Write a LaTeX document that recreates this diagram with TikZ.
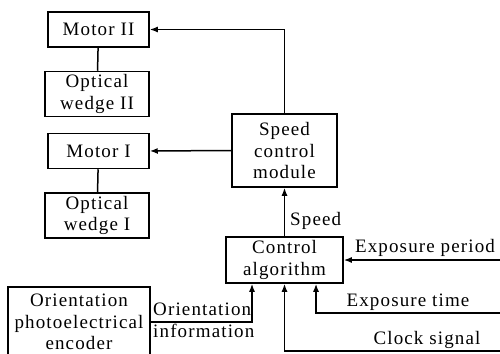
\documentclass[tikz,border=0pt]{standalone}
\usepackage{fontspec}
\setmainfont[LetterSpace=6]{Liberation Serif}
\usetikzlibrary{arrows.meta}
\tikzset{
    common/.style={draw, line width=1.5pt, rectangle, align=center, inner sep=0pt, font=\fontsize{19}{21.5}\selectfont},
    motor/.style={common, minimum width=101pt, minimum height=35pt},
    wedge/.style={common, minimum width=104pt, minimum height=45pt},
    module/.style={common, minimum width=105pt, minimum height=73pt},
    algo/.style={common, minimum width=117pt, minimum height=46pt},
    encoder/.style={common, minimum width=142pt, minimum height=70pt},
    lbl/.style={inner sep=0pt, font=\fontsize{19}{21.5}\selectfont},
    flow/.style={line width=1.5pt, -{Latex[length=8pt, width=6pt]}},
    link/.style={line width=1.5pt}
}
\begin{document}
\begin{tikzpicture}[x=1pt, y=-1pt]
      \useasboundingbox (0,0) rectangle (500,353);

      % motors and wedges
      \node[motor] (motor-2) at (98.5,29.5) {Motor II};
      \node[wedge] (wedge-2) at (97,94) {Optical\\wedge II};
      \node[motor] (motor-1) at (98.5,151) {Motor I};
      \node[wedge] (wedge-1) at (97,215.5) {Optical\\wedge I};

      % control chain
      \node[module] (speed) at (284.5,150.5) {Speed\\control\\module};
      \node[algo] (control) at (284.5,260) {Control\\algorithm};
      \node[encoder] (encoder) at (79,322) {Orientation\\photoelectrical\\encoder};

      % inputs from the right
      \coordinate (period-in) at (500,260);
      \coordinate (time-in) at (500,313);
      \coordinate (clock-in) at (500,351);

      \draw[link] (motor-2) -- (wedge-2) (motor-1) -- (wedge-1);
      \draw[flow] (speed.north) |- (motor-2.east);
      \draw[flow] (speed.west) -- (motor-1.east);
      \draw[flow] (control.north) -- (speed.south);

      \draw[flow] (period-in) -- (control.east);
      \draw[flow] (time-in) -| ([xshift=31.5pt]control.south);
      \draw[flow] (clock-in) -| (control.south);
      \draw[flow] (encoder.east) -| ([xshift=-32.5pt]control.south);

      \node[lbl, anchor=west] (speed-lbl) at (290,221) {Speed};
      \node[lbl, anchor=base] (period-lbl) at (425,252) {Exposure period};
      \node[lbl, anchor=base] (time-lbl) at (408,306) {Exposure time};
      \node[lbl, anchor=base] (clock-lbl) at (427,344) {Clock signal};
      \node[lbl, anchor=base west] (orient-lbl) at (153,315) {Orientation};
      \node[lbl, anchor=base west] (info-lbl) at (153,337) {information};
\end{tikzpicture}
\end{document}
